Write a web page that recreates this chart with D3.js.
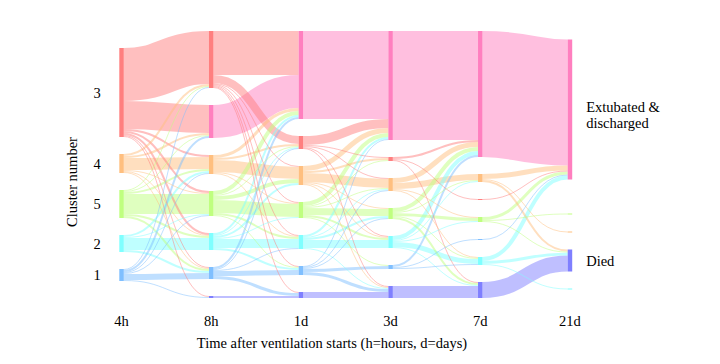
<!DOCTYPE html>
<html>
<head>
<meta charset="utf-8">
<script src="https://cdn.jsdelivr.net/npm/d3@7"></script>
<style>
  body { margin: 0; background: #fff; }
  text { font-family: 'Liberation Serif', serif; font-size: 14.5px; fill: #000; }
</style>
</head>
<body>
<div id="chart"></div>
<script>
// time points along the x axis
const times = ['4h', '8h', '1d', '3d', '7d', '21d']

// order of the states in each column, top to bottom (E = extubated & discharged, D = died)
const order4h = ['3', '4', '5', '2', '1']
const order8h = ['3', 'E', '4', '5', '2', '1', 'D']
const order1d = ['E', '3', '4', '5', '2', '1', 'D']
const order3d = ['E', '3', '4', '5', '2', '1', 'D']
const order7d = ['E', '4', '3', '5', '1', '2', 'D']
const order21d = ['E', '3', '5', '4', 'D', '2']

// patient counts moving between states: [from, to, count]
const flow4h8h = [
  ['3', '3', 53], ['3', 'E', 28], ['3', '4', 2], ['3', '5', 2], ['3', '2', 2], ['3', '1', 1], ['3', 'D', 1],
  ['4', '3', 2], ['4', 'E', 2], ['4', '4', 12], ['4', '5', 1], ['4', '2', 1], ['4', '1', 1],
  ['5', '3', 1], ['5', 'E', 1], ['5', '4', 2], ['5', '5', 20], ['5', '2', 2], ['5', '1', 2],
  ['2', '4', 2], ['2', '5', 1], ['2', '2', 12], ['2', '1', 2],
  ['1', '3', 1], ['1', 'E', 2], ['1', '4', 1], ['1', '5', 1], ['1', '1', 6], ['1', 'D', 1]
]
const flow8h1d = [
  ['3', 'E', 44], ['3', '3', 8], ['3', '4', 1], ['3', '5', 1], ['3', '2', 1], ['3', '1', 1], ['3', 'D', 1],
  ['E', 'E', 33],
  ['4', 'E', 3], ['4', '3', 2], ['4', '4', 12], ['4', '5', 1], ['4', '2', 1],
  ['5', 'E', 4], ['5', '3', 1], ['5', '4', 4], ['5', '5', 13], ['5', '2', 2], ['5', '1', 1],
  ['2', 'E', 2], ['2', '3', 1], ['2', '4', 2], ['2', '5', 1], ['2', '2', 9], ['2', '1', 2],
  ['1', 'E', 2], ['1', '3', 1], ['1', '2', 1], ['1', '1', 5], ['1', 'D', 3],
  ['D', 'D', 2]
]
const flow1d3d = [
  ['E', 'E', 88],
  ['3', 'E', 9], ['3', '3', 1], ['3', '4', 1], ['3', '2', 1], ['3', 'D', 1],
  ['4', 'E', 5], ['4', '3', 2], ['4', '4', 9], ['4', '5', 1], ['4', '2', 1], ['4', 'D', 1],
  ['5', 'E', 4], ['5', '3', 1], ['5', '4', 1], ['5', '5', 7], ['5', '2', 2], ['5', '1', 1],
  ['2', 'E', 2], ['2', '4', 1], ['2', '5', 2], ['2', '2', 8], ['2', 'D', 1],
  ['1', 'E', 1], ['1', '4', 1], ['1', '5', 1], ['1', '1', 3], ['1', 'D', 3],
  ['D', 'D', 6]
]
const flow3d7d = [
  ['E', 'E', 109],
  ['3', 'E', 2], ['3', '3', 1], ['3', 'D', 1],
  ['4', 'E', 5], ['4', '4', 6], ['4', '5', 1], ['4', '2', 1],
  ['5', 'E', 4], ['5', '4', 1], ['5', '5', 3], ['5', '2', 1], ['5', 'D', 2],
  ['2', 'E', 4], ['2', '4', 1], ['2', '5', 1], ['2', '2', 5], ['2', 'D', 1],
  ['1', 'E', 2], ['1', '1', 1], ['1', '2', 1],
  ['D', 'D', 12]
]
const flow7d21d = [
  ['E', 'E', 126],
  ['4', 'E', 5], ['4', '4', 1], ['4', 'D', 2],
  ['3', 'E', 1],
  ['5', 'E', 3], ['5', '5', 1], ['5', 'D', 1],
  ['1', 'E', 1],
  ['2', 'E', 4], ['2', 'D', 3], ['2', '2', 1],
  ['D', 'D', 16]
]

const clusterLabels = ['3', '4', '5', '2', '1']
const outcomeLabels = { E: ['Extubated &', 'discharged'], D: ['Died'] }
const colors = { '3': '#ff7f7f', '4': '#ffbf7f', '5': '#bfff7f', '2': '#7fffff', '1': '#7fbfff', E: '#ff7fbf', D: '#7f7fff' }

const orders = [order4h, order8h, order1d, order3d, order7d, order21d]
const flows = [flow4h8h, flow8h1d, flow1d3d, flow3d7d, flow7d21d]

const width = 720
const height = 364
const nodeWidth = 4.5
const nodePad = 17
const yTop = 31
const yBottom = 298

let x = d3.scalePoint().domain(times).range([119.3, 567.7])

// build nodes and links
let nodes = []
orders.forEach((keys, c) => keys.forEach((key) => {
  nodes.push({ id: c + ':' + key, key: key, col: c, inV: 0, outV: 0, ins: [], outs: [] })
}))
let byId = new Map(nodes.map((n) => [n.id, n]))
let links = []
flows.forEach((list, c) => list.forEach(([s, t, v]) => {
  let l = { source: byId.get(c + ':' + s), target: byId.get((c + 1) + ':' + t), value: v }
  l.source.outs.push(l)
  l.target.ins.push(l)
  l.source.outV += v
  l.target.inV += v
  links.push(l)
}))
nodes.forEach((n) => { n.value = Math.max(n.inV, n.outV) })

// vertical layout: one value scale for all columns, each column centred
let cols = d3.groups(nodes, (n) => n.col).map((d) => d[1])
let k = d3.min(cols, (col) => (yBottom - yTop - (col.length - 1) * nodePad) / d3.sum(col, (n) => n.value))
let y = d3.scaleLinear().domain([0, 1]).range([0, k])
cols.forEach((col) => {
  let total = y(d3.sum(col, (n) => n.value)) + (col.length - 1) * nodePad
  let pos = (yTop + yBottom) / 2 - total / 2
  col.forEach((n) => {
    n.y0 = pos
    n.y1 = pos + y(n.value)
    pos = n.y1 + nodePad
  })
})
nodes.forEach((n) => {
  n.outs.sort((a, b) => a.target.y0 - b.target.y0)
  n.ins.sort((a, b) => a.source.y0 - b.source.y0)
  let pos = n.y0
  n.outs.forEach((l) => { l.sy = pos + y(l.value) / 2; pos += y(l.value) })
  pos = n.y0
  n.ins.forEach((l) => { l.ty = pos + y(l.value) / 2; pos += y(l.value) })
})

let svg = d3.select('#chart').append('svg').attr('width', width).attr('height', height)

let linkPath = d3.linkHorizontal()
  .source((l) => [x(times[l.source.col]) + nodeWidth, l.sy])
  .target((l) => [x(times[l.target.col]), l.ty])

svg.append('g')
  .attr('fill', 'none')
  .selectAll('path')
  .data(links.slice().sort((a, b) => b.value - a.value))
  .enter().append('path')
    .attr('d', linkPath)
    .attr('stroke', (l) => colors[l.source.key])
    .attr('stroke-opacity', 0.5)
    .attr('stroke-width', (l) => Math.max(1, y(l.value)))

svg.append('g')
  .selectAll('rect')
  .data(nodes.filter((n) => n.value > 0))
  .enter().append('rect')
    .attr('x', (n) => x(times[n.col]))
    .attr('y', (n) => n.y0)
    .attr('width', nodeWidth)
    .attr('height', (n) => Math.max(1, n.y1 - n.y0))
    .attr('fill', (n) => colors[n.key])

// cluster numbers beside the first column
let first = nodes.filter((n) => n.col === 0)
svg.append('g')
  .selectAll('text')
  .data(clusterLabels)
  .enter().append('text')
    .attr('x', 97)
    .attr('y', (d) => { let n = first.find((m) => m.key === d); return (n.y0 + n.y1) / 2 + 5 })
    .attr('text-anchor', 'middle')
    .text((d) => d)

// outcome labels beside the last column
let last = nodes.filter((n) => n.col === times.length - 1 && outcomeLabels[n.key])
last.forEach((n) => {
  let lines = outcomeLabels[n.key]
  let mid = (n.y0 + n.y1) / 2 + 5
  lines.forEach((line, i) => {
    svg.append('text')
      .attr('x', x(times[n.col]) + nodeWidth + 14)
      .attr('y', mid + (i - (lines.length - 1) / 2) * 16 + (lines.length > 1 ? 5 : 0))
      .text(line)
  })
})

// time labels
svg.append('g')
  .selectAll('text')
  .data(times)
  .enter().append('text')
    .attr('x', (d) => x(d) + nodeWidth / 2)
    .attr('y', 326)
    .attr('text-anchor', 'middle')
    .text((d) => d)

svg.append('text')
  .attr('x', 332)
  .attr('y', 348)
  .attr('text-anchor', 'middle')
  .text('Time after ventilation starts (h=hours, d=days)')

svg.append('text')
  .attr('transform', 'translate(77,182) rotate(-90)')
  .attr('text-anchor', 'middle')
  .text('Cluster number')
</script>
</body>
</html>
